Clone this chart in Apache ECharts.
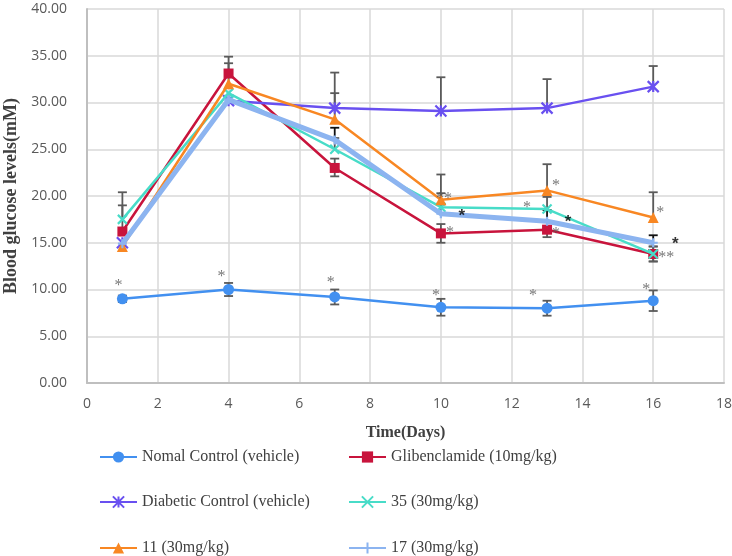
<!DOCTYPE html>
<html><head><meta charset="utf-8">
<script src="https://cdn.jsdelivr.net/npm/echarts@6/dist/echarts.min.js"></script>
<style>html,body{margin:0;padding:0;background:#fff}#c{width:732px;height:556px}</style>
</head><body><div id="c"></div>
<script>
// ---- data ----
const days = [1, 4, 7, 10, 13, 16];
const xTickMax = 18;
const yTickMax = 40;
const seriesNames = ['Nomal Control (vehicle)', 'Glibenclamide (10mg/kg)', 'Diabetic Control (vehicle)', '35 (30mg/kg)', '11 (30mg/kg)', '17 (30mg/kg)'];

const normal = [9.0, 10.0, 9.2, 8.1, 8.0, 8.8];
const normalErrUp = [0.35, 0.7, 0.8, 0.9, 0.8, 1.1];
const normalErrDown = [0.35, 0.7, 0.8, 0.9, 0.8, 1.1];

const gliben = [16.2, 33.1, 23.0, 16.0, 16.4, 13.8];
const glibenErrUp = [2.8, 1.8, 1.0, 1.0, 0.8, 0.8];
const glibenErrDown = [0, 0, 0.9, 1.0, 0.8, 0.8];

const diabetic = [15.0, 30.2, 29.4, 29.1, 29.4, 31.7];
const diabeticErrUp = [0, 0, 3.8, 3.6, 3.1, 2.2];
const diabeticErrDown = [0, 0, 0, 0, 0, 0];

const c35 = [17.5, 31.0, 25.0, 18.8, 18.6, 13.8];
const c35ErrUp = [2.9, 0, 1.2, 1.5, 1.3, 0.8];
const c35ErrDown = [0, 0, 0, 0, 0, 0.8];

const c11 = [14.6, 32.0, 28.2, 19.6, 20.6, 17.7];
const c11ErrUp = [0, 2.2, 2.8, 2.7, 2.8, 2.7];
const c11ErrDown = [0, 0, 0, 0, 0, 0];

const c17 = [14.9, 30.3, 26.0, 18.1, 17.3, 15.0];
const c17ErrUp = [0, 0, 1.3, 1.0, 1.2, 0.8];
const c17ErrDown = [0, 0, 0, 0, 0, 0];

// significance marks
const normalSig = ['*', '*', '*', '*', '*', '*'];
const glibenSig = ['', '', '', '*', '*', '**'];
const c35Sig = ['', '', '', '', '*', ''];
const c11Sig = ['', '', '', '**', '*', '*'];
const c17Sig = ['', '', '', '*', '*', '*'];

// ---- styles ----
const colors = ['#4290f0', '#c8143c', '#6950f0', '#48dcc8', '#f88723', '#8cb4f0'];
const starPath = 'path://M0 0L10 10M10 0L0 10M5 0L5 10';
const xPath = 'path://M0 0L10 10M10 0L0 10';
const plusPath = 'path://M5 0L5 10M0 5L10 5';
const symbols = ['circle', 'rect', starPath, xPath, 'triangle', plusPath];
const symbolSizes = [11, 10, 11, 9, 11, 9];
const lineWidths = [2.5, 2.5, 2.5, 2.5, 2.5, 5];
const values = [normal, gliben, diabetic, c35, c11, c17];
const errsUp = [normalErrUp, glibenErrUp, diabeticErrUp, c35ErrUp, c11ErrUp, c17ErrUp];
const errsDown = [normalErrDown, glibenErrDown, diabeticErrDown, c35ErrDown, c11ErrDown, c17ErrDown];
const errColors = ['#5a5a5a', '#5a5a5a', '#5a5a5a', '#5a5a5a', '#5a5a5a', '#111111'];

const sigSets = [
  {vals: normal, sig: normalSig, color: '#555', bold: false, off: [[-4,-17],[-7,-17],[-4,-18],[-5,-15],[-14,-16],[-7,-15]]},
  {vals: gliben, sig: glibenSig, color: '#555', bold: false, off: [[0,0],[0,0],[0,0],[9,-5],[9,0],[13,0]]},
  {vals: c35, sig: c35Sig, color: '#555', bold: false, off: [[0,0],[0,0],[0,0],[0,0],[-20,-5],[0,0]]},
  {vals: c11, sig: c11Sig, color: '#555', bold: false, off: [[0,0],[0,0],[0,0],[3,-5],[9,-9],[7,-9]]},
  {vals: c17, sig: c17Sig, color: '#000', bold: true, off: [[0,0],[0,0],[0,0],[21,-1],[21,-3],[22,-2]]}
];

const series = [];
seriesNames.forEach((name, k) => {
  series.push({
    type: 'custom', name: name + ' err', silent: true, z: 1,
    data: days.map((d, i) => [d, values[k][i] - errsDown[k][i], values[k][i] + errsUp[k][i], values[k][i]]),
    encode: {x: 0, y: [1, 2]},
    renderItem: (params, api) => {
      const x = api.value(0), lo = api.value(1), hi = api.value(2), v = api.value(3);
      const pV = api.coord([x, v]), pHi = api.coord([x, hi]), pLo = api.coord([x, lo]);
      const st = {stroke: errColors[k], lineWidth: 1.8};
      const hw = 4.5;
      const ch = [];
      if (hi > v) {
        ch.push({type: 'line', shape: {x1: pV[0], y1: pV[1], x2: pHi[0], y2: pHi[1]}, style: st});
        ch.push({type: 'line', shape: {x1: pHi[0] - hw, y1: pHi[1], x2: pHi[0] + hw, y2: pHi[1]}, style: st});
      }
      if (lo < v) {
        ch.push({type: 'line', shape: {x1: pV[0], y1: pV[1], x2: pLo[0], y2: pLo[1]}, style: st});
        ch.push({type: 'line', shape: {x1: pLo[0] - hw, y1: pLo[1], x2: pLo[0] + hw, y2: pLo[1]}, style: st});
      }
      return {type: 'group', children: ch};
    }
  });
});
seriesNames.forEach((name, k) => {
  series.push({
    type: 'line', name: name, z: 2 + k,
    data: days.map((d, i) => [d, values[k][i]]),
    symbol: symbols[k], symbolSize: symbolSizes[k], showSymbol: true,
    lineStyle: {color: colors[k], width: lineWidths[k]},
    itemStyle: {color: colors[k], borderColor: colors[k], borderWidth: (k === 2 || k === 3 || k === 5) ? 2.2 : 0},
    emphasis: {disabled: true}
  });
});
sigSets.forEach((s, j) => {
  series.push({
    type: 'scatter', name: 'sig' + j, silent: true, z: 20, symbolSize: 1,
    itemStyle: {color: 'rgba(0,0,0,0)'},
    data: days.map((d, i) => ({
      value: [d, s.vals[i]],
      label: {show: s.sig[i] !== '', formatter: s.sig[i], offset: [s.off[i][0], s.off[i][1] + 4]}
    })),
    label: {position: 'inside', color: s.color, fontSize: s.bold ? 17 : 16,
            fontFamily: s.bold ? 'Liberation Sans' : 'Liberation Serif', fontWeight: s.bold ? 'bold' : 'normal'}
  });
});

const legendText = {fontFamily: 'Liberation Serif', fontSize: 16, color: '#404040'};
const legendCols = [99, 348];
const legendRows = [449, 494, 540];
const legends = seriesNames.map((name, k) => ({
  orient: 'horizontal', left: legendCols[k % 2], top: legendRows[Math.floor(k / 2)],
  itemWidth: 37, itemHeight: 14, itemGap: 4, padding: 0,
  data: [name], textStyle: legendText, selectedMode: false
}));

const option = {
  animation: false,
  backgroundColor: '#fff',
  grid: {left: 87, right: 8, top: 9, bottom: 173, containLabel: false, outerBoundsMode: 'none'},
  xAxis: {
    type: 'value', min: 0, max: xTickMax, interval: 2,
    name: 'Time(Days)', nameLocation: 'middle', nameGap: 42,
    nameTextStyle: {fontFamily: 'Liberation Serif', fontWeight: 'bold', fontSize: 16, color: '#404040'},
    axisLine: {show: true, lineStyle: {color: '#bfbfbf', width: 2}},
    axisTick: {show: false},
    axisLabel: {fontFamily: 'Open Sans', fontSize: 14, color: '#595959', margin: 14},
    splitLine: {show: true, lineStyle: {color: '#d9d9d9', width: 1.5}}
  },
  yAxis: {
    type: 'value', min: 0, max: yTickMax, interval: 5,
    name: 'Blood glucose levels(mM)', nameLocation: 'middle', nameGap: 67, nameRotate: 90,
    nameTextStyle: {fontFamily: 'Liberation Serif', fontWeight: 'bold', fontSize: 18, color: '#404040'},
    axisLine: {show: true, lineStyle: {color: '#bfbfbf', width: 2}},
    axisTick: {show: false},
    axisLabel: {fontFamily: 'Open Sans', fontSize: 14, color: '#595959', margin: 20, formatter: v => v.toFixed(2)},
    splitLine: {show: true, lineStyle: {color: '#d9d9d9', width: 1.5}}
  },
  legend: legends,
  series: series
};
const chart = echarts.init(document.getElementById('c'), null, {renderer: 'canvas'});
chart.setOption(option);
</script>
</body></html>
